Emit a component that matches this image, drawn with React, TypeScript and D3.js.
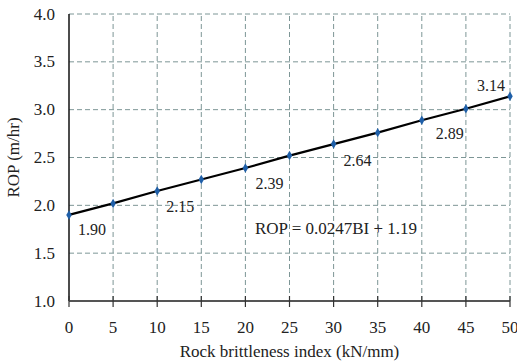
import React from "react";
import * as d3 from "d3";

const brittleness = [0, 5, 10, 15, 20, 25, 30, 35, 40, 45, 50];
const rop = [1.9, 2.02, 2.15, 2.27, 2.39, 2.52, 2.64, 2.76, 2.89, 3.01, 3.14];
const labelled = ["1.90", "2.15", "2.39", "2.64", "2.89", "3.14"];
const labelAt = [0, 10, 20, 30, 40, 50];
const yTicks = [1.0, 1.5, 2.0, 2.5, 3.0, 3.5, 4.0];

const W = 517;
const H = 363;
const margin = { top: 14, right: 7, bottom: 62, left: 69 };

const App = () => {
  const x = d3
    .scaleLinear()
    .domain([0, 50])
    .range([margin.left, W - margin.right]);
  const y = d3
    .scaleLinear()
    .domain([1, 4])
    .range([H - margin.bottom, margin.top]);

  const line = d3
    .line<number>()
    .x((_, i) => x(brittleness[i]))
    .y((d) => y(d));

  const font = "Liberation Serif, Times New Roman, Times, serif";
  const grid = "#7d9696";

  // label offsets around the point (dx, dy)
  const offsets = [
    [23, 15],
    [23, 16],
    [24, 15],
    [24, 16],
    [28, 13],
    [-19, -11],
  ];

  return (
    <svg
      width={W}
      height={H}
      style={{ position: "absolute", left: 0, top: 0, background: "#fff", fontFamily: font }}
    >
      {/* grid */}
      {yTicks.slice(1).map((t) => (
        <line
          key={"gy" + t}
          x1={x(0)}
          x2={x(50)}
          y1={y(t)}
          y2={y(t)}
          stroke={grid}
          strokeWidth={1}
          strokeDasharray="5,3"
        />
      ))}
      {brittleness.slice(1).map((t) => (
        <line
          key={"gx" + t}
          x1={x(t)}
          x2={x(t)}
          y1={y(1)}
          y2={y(4)}
          stroke={grid}
          strokeWidth={1}
          strokeDasharray="5,3"
        />
      ))}

      {/* axes */}
      <line x1={x(0)} x2={x(0)} y1={y(4)} y2={y(1)} stroke="#111" strokeWidth={1.5} />
      <line x1={x(0)} x2={x(50)} y1={y(1)} y2={y(1)} stroke="#555" strokeWidth={2} />
      {brittleness.map((t) => (
        <line
          key={"tx" + t}
          x1={x(t)}
          x2={x(t)}
          y1={y(1) - 5}
          y2={y(1) + 6}
          stroke="#333"
          strokeWidth={1.2}
        />
      ))}

      {yTicks.map((t) => (
        <text
          key={"ly" + t}
          x={x(0) - 14}
          y={y(t)}
          textAnchor="end"
          dominantBaseline="central"
          fontSize={17}
          fill="#222"
        >
          {d3.format(".1f")(t)}
        </text>
      ))}
      {brittleness.map((t) => (
        <text
          key={"lx" + t}
          x={x(t)}
          y={y(1) + 32}
          textAnchor="middle"
          fontSize={17}
          fill="#222"
        >
          {t}
        </text>
      ))}

      <text
        x={(x(0) + x(50)) / 2}
        y={H - 6}
        textAnchor="middle"
        fontSize={17}
        fill="#222"
      >
        Rock brittleness index (kN/mm)
      </text>
      <text
        transform={`translate(19,${(y(1) + y(4)) / 2}) rotate(-90)`}
        textAnchor="middle"
        fontSize={17}
        fill="#222"
      >
        ROP (m/hr)
      </text>

      {/* series */}
      <path d={line(rop) ?? ""} fill="none" stroke="#000" strokeWidth={2.2} />
      {rop.map((v, i) => (
        <path
          key={"p" + i}
          d={d3.symbol(d3.symbolDiamond, 26)() ?? ""}
          transform={`translate(${x(brittleness[i])},${y(v)})`}
          fill="#1f5fa8"
        />
      ))}

      {labelled.map((s, i) => {
        const bi = labelAt[i];
        const v = rop[brittleness.indexOf(bi)];
        return (
          <text
            key={"dl" + s}
            x={x(bi) + offsets[i][0]}
            y={y(v) + offsets[i][1]}
            textAnchor="middle"
            dominantBaseline="central"
            fontSize={16}
            fill="#222"
          >
            {s}
          </text>
        );
      })}

      <text
        x={336}
        y={228}
        textAnchor="middle"
        dominantBaseline="central"
        fontSize={17}
        fill="#222"
      >
        ROP = 0.0247BI + 1.19
      </text>
    </svg>
  );
};

export default App;
